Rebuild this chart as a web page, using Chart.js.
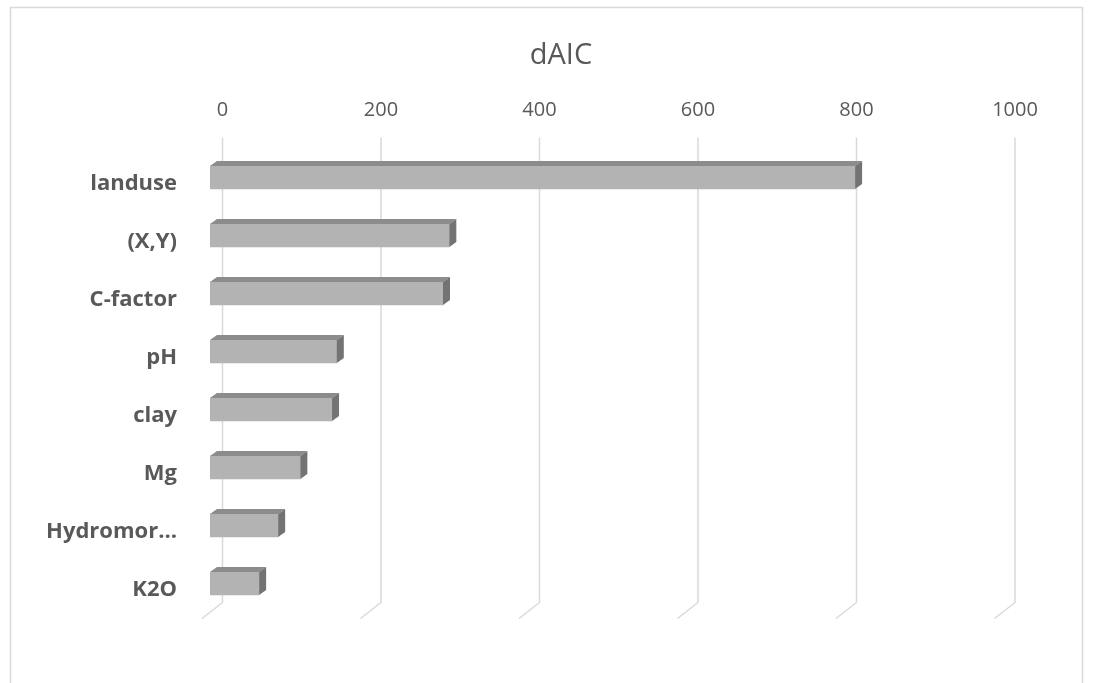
<!DOCTYPE html>
<html>
<head>
<meta charset="utf-8">
<script src="https://cdn.jsdelivr.net/npm/chart.js@4/dist/chart.umd.min.js"></script>
<style>
  html, body { margin: 0; padding: 0; background: #fff; }
  canvas { display: block; }
</style>
</head>
<body>
<canvas id="chart" width="1094" height="683"></canvas>
<script>
const categories = ['landuse', '(X,Y)', 'C-factor', 'pH', 'clay', 'Mg', 'Hydromor…', 'K2O'];
const dAIC = [814, 302, 294, 160, 154, 114, 86, 62];
const tickValues = [0, 200, 400, 600, 800, 1000];

const textColor = '#595959';
const gridColor = '#d9d9d9';

// depth of the 3D bars and of the back wall, in px
const BAR_DX = 7, BAR_DY = -5;
const WALL_DX = 12.5;
const FLOOR_DX = -8, FLOOR_DY = 16;

const frame = {
  id: 'frame',
  beforeDraw(chart) {
    const ctx = chart.ctx;
    ctx.save();
    ctx.strokeStyle = gridColor;
    ctx.lineWidth = 1.5;
    ctx.strokeRect(10.5, 7.5, 1072, 700);
    ctx.restore();
  },
  // centre the title over the whole frame rather than the padded box
  afterLayout(chart) {
    if (chart.titleBlock) chart.titleBlock.left = 119.5;
  }
};

// back-wall gridlines with the slanted floor part
const wallGrid = {
  id: 'wallGrid',
  beforeDatasetsDraw(chart) {
    const ctx = chart.ctx;
    const x = chart.scales.x;
    const area = chart.chartArea;
    ctx.save();
    ctx.strokeStyle = gridColor;
    ctx.lineWidth = 1.5;
    tickValues.forEach(v => {
      const px = x.getPixelForValue(v);
      const top = area.top - 11;
      const bottom = area.bottom - 10;
      ctx.beginPath();
      ctx.moveTo(px + WALL_DX, top);
      ctx.lineTo(px + WALL_DX, bottom);
      ctx.lineTo(px + FLOOR_DX, bottom + FLOOR_DY);
      ctx.stroke();
    });
    ctx.restore();
  }
};

// top and end faces of each bar
const bar3d = {
  id: 'bar3d',
  afterDatasetsDraw(chart) {
    const ctx = chart.ctx;
    const meta = chart.getDatasetMeta(0);
    ctx.save();
    meta.data.forEach(bar => {
      const { x, y, base, height } = bar.getProps(['x', 'y', 'base', 'height'], true);
      const top = y - height / 2;
      const bottom = y + height / 2;
      ctx.fillStyle = '#8c8c8c';
      ctx.beginPath();
      ctx.moveTo(base, top);
      ctx.lineTo(base + BAR_DX, top + BAR_DY);
      ctx.lineTo(x + BAR_DX, top + BAR_DY);
      ctx.lineTo(x, top);
      ctx.closePath();
      ctx.fill();
      ctx.fillStyle = '#737373';
      ctx.beginPath();
      ctx.moveTo(x, top);
      ctx.lineTo(x + BAR_DX, top + BAR_DY);
      ctx.lineTo(x + BAR_DX, bottom + BAR_DY);
      ctx.lineTo(x, bottom);
      ctx.closePath();
      ctx.fill();
    });
    ctx.restore();
  }
};

new Chart(document.getElementById('chart'), {
  type: 'bar',
  data: {
    labels: categories,
    datasets: [{
      label: 'dAIC',
      data: dAIC,
      backgroundColor: '#b3b3b3',
      borderWidth: 0,
      barThickness: 23
    }]
  },
  options: {
    indexAxis: 'y',
    responsive: false,
    animation: false,
    devicePixelRatio: 1,
    layout: { padding: { left: 0, right: 91.5, top: 0, bottom: 70.5 } },
    plugins: {
      legend: { display: false },
      tooltip: { enabled: false },
      title: {
        display: true,
        text: 'dAIC',
        color: textColor,
        font: { family: 'Open Sans', size: 29, weight: 'normal' },
        padding: { top: 38, bottom: 0 }
      }
    },
    scales: {
      x: {
        position: 'top',
        min: 0,
        max: 1000,
        afterBuildTicks(scale) {
          scale.ticks = tickValues.map(v => ({ value: v }));
        },
        afterFit(scale) { scale.height = 148.5 - 72.8; },
        grid: { display: false, drawTicks: false },
        border: { display: false },
        ticks: {
          color: textColor,
          font: { family: 'Open Sans', size: 20 },
          padding: 26,
          labelOffset: WALL_DX,
          callback: v => String(v)
        }
      },
      y: {
        afterFit(scale) { scale.width = 210; },
        grid: { display: false, drawTicks: false },
        border: { display: false },
        ticks: {
          color: textColor,
          font: { family: 'Open Sans', size: 22, weight: 'bold' },
          padding: 33,
          labelOffset: 6
        }
      }
    }
  },
  plugins: [frame, wallGrid, bar3d]
});
</script>
</body>
</html>
